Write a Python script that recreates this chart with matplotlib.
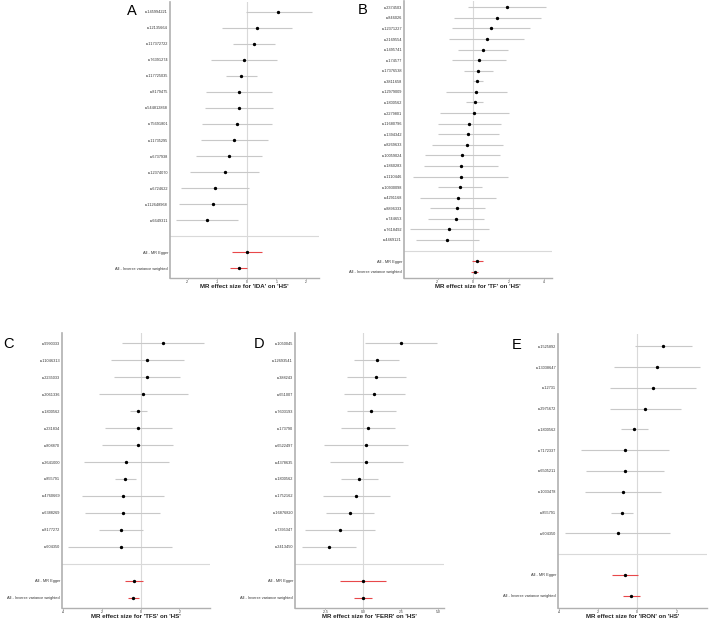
import matplotlib
matplotlib.use("Agg")
import matplotlib.pyplot as plt

plt.rcParams['font.family'] = ['Liberation Sans', 'DejaVu Sans']

W, H = 709, 622

# ---- panel A: IDA on HS
a_snps = ["rs145994221", "rs12135664", "rs117372722", "rs76391274", "rs117725035",
          "rs8179475", "rs544812868", "rs75691801", "rs11735295", "rs6737938",
          "rs12374070", "rs6724622", "rs112648968", "rs6649311"]
a_b = [1.07, 0.35, 0.24, -0.09, -0.19, -0.27, -0.27, -0.34, -0.42, -0.62, -0.75, -1.08, -1.16, -1.34]
a_lo = [-0.03, -0.83, -0.46, -1.21, -0.72, -1.38, -1.42, -1.51, -1.55, -1.72, -1.92, -2.24, -2.29, -2.40]
a_hi = [2.19, 1.53, 0.96, 1.02, 0.35, 0.86, 0.90, 0.84, 0.71, 0.50, 0.42, 0.08, -0.01, -0.29]
a_sum_b = [0.0, -0.28]
a_sum_lo = [-0.51, -0.58]
a_sum_hi = [0.51, 0.02]

# ---- panel B: TF on HS
b_snps = ["rs2374503", "rs846026", "rs12371227", "rs2169554", "rs1495741", "rs174577",
          "rs17376538", "rs3811658", "rs12979009", "rs1800562", "rs2279801", "rs11680796",
          "rs1394342", "rs8269633", "rs10059024", "rs1860283", "rs1110446", "rs10930098",
          "rs4291168", "rs8896333", "rs744653", "rs7618492", "rs4469121"]
b_b = [1.89, 1.37, 1.01, 0.77, 0.56, 0.32, 0.30, 0.24, 0.17, 0.09, 0.08, -0.21,
       -0.26, -0.32, -0.60, -0.68, -0.69, -0.73, -0.86, -0.88, -0.96, -1.33, -1.46]
b_lo = [-0.28, -1.07, -1.18, -1.33, -0.84, -1.18, -0.51, 0.0, -1.54, -0.39, -1.86, -1.95,
        -1.99, -2.29, -2.70, -2.78, -3.36, -1.95, -3.00, -2.42, -2.51, -3.55, -3.23]
b_hi = [4.09, 3.81, 3.23, 2.87, 1.99, 1.84, 1.13, 0.54, 1.91, 0.58, 2.01, 1.56,
        1.46, 1.67, 1.50, 1.43, 1.99, 0.51, 1.28, 0.68, 0.62, 0.92, 0.36]
b_sum_b = [0.24, 0.09]
b_sum_lo = [-0.04, -0.09]
b_sum_hi = [0.54, 0.28]

# ---- panel C: TFS on HS
c_snps = ["rs9990333", "rs11046313", "rs2235033", "rs2061336", "rs1800562", "rs231834",
          "rs808870", "rs2641000", "rs855791", "rs4760669", "rs6388269", "rs8177272", "rs604350"]
c_b = [1.14, 0.33, 0.33, 0.14, -0.12, -0.12, -0.16, -0.76, -0.79, -0.91, -0.93, -1.03, -1.03]
c_lo = [-0.95, -1.53, -1.36, -2.14, -0.57, -1.86, -2.00, -2.91, -1.33, -3.02, -2.86, -2.14, -3.74]
c_hi = [3.26, 2.22, 2.05, 2.43, 0.34, 1.62, 1.69, 1.45, -0.24, 1.19, 1.00, 0.14, 1.64]
c_sum_b = [-0.34, -0.38]
c_sum_lo = [-0.79, -0.66]
c_sum_hi = [0.10, -0.09]

# ---- panel D: FERR on HS
d_snps = ["rs1050045", "rs12693541", "rs388243", "rs651007", "rs7603193", "rs173790",
          "rs6522497", "rs4378635", "rs1800562", "rs1752162", "rs16876820", "rs7395347", "rs2413450"]
d_b = [2.51, 0.91, 0.86, 0.75, 0.53, 0.31, 0.18, 0.18, -0.29, -0.47, -0.86, -1.53, -2.26]
d_lo = [0.11, -0.60, -1.09, -1.24, -1.09, -1.49, -2.57, -2.22, -1.49, -2.68, -2.46, -3.84, -4.06]
d_hi = [4.92, 2.37, 2.82, 2.75, 2.20, 2.13, 2.95, 2.62, 0.98, 1.77, 0.75, 0.82, -0.47]
d_sum_b = [0.0, 0.0]
d_sum_lo = [-1.55, -0.60]
d_sum_hi = [1.55, 0.58]

# ---- panel E: IRON on HS
e_snps = ["rs1525892", "rs13038647", "rs12731", "rs2975672", "rs1800562", "rs7172337",
          "rs6505211", "rs1033478", "rs855791", "rs604350"]
e_b = [1.32, 1.01, 0.79, 0.41, -0.17, -0.63, -0.65, -0.74, -0.79, -1.01]
e_lo = [-0.14, -1.20, -1.38, -1.40, -0.85, -2.85, -2.63, -2.68, -1.33, -3.71]
e_hi = [2.80, 3.21, 2.99, 2.22, 0.56, 1.61, 1.35, 1.23, -0.22, 1.69]
e_sum_b = [-0.65, -0.31]
e_sum_lo = [-1.28, -0.74]
e_sum_hi = [0.02, 0.12]

sum_labels = ["All - MR Egger", "All - Inverse variance weighted"]

panels = [
    # letter, exposure, data, ticks, xlim, box(px: left, right, top, bottom), letter pos
    ("A", "IDA", a_snps, a_b, a_lo, a_hi, a_sum_b, a_sum_lo, a_sum_hi,
     [-2, -1, 0, 1, 2], (-2.6, 2.44), (170, 319, 2, 278), (132, 11)),
    ("B", "TF", b_snps, b_b, b_lo, b_hi, b_sum_b, b_sum_lo, b_sum_hi,
     [-2, 0, 2, 4], (-3.89, 4.45), (404, 552, 1, 278), (363, 10)),
    ("C", "TFS", c_snps, c_b, c_lo, c_hi, c_sum_b, c_sum_lo, c_sum_hi,
     [-4, -2, 0, 2], (-4.07, 3.59), (62, 210, 333, 608), (9, 344)),
    ("D", "FERR", d_snps, d_b, d_lo, d_hi, d_sum_b, d_sum_lo, d_sum_hi,
     [-2.5, 0.0, 2.5, 5.0], (-4.52, 5.37), (295, 444, 333, 608), (259, 344)),
    ("E", "IRON", e_snps, e_b, e_lo, e_hi, e_sum_b, e_sum_lo, e_sum_hi,
     [-4, -2, 0, 2], (-4.05, 3.56), (558, 707, 334, 608), (517, 345)),
]

fig = plt.figure(figsize=(W / 100, H / 100), dpi=100)
fig.patch.set_facecolor("white")

for (letter, expo, snps, b, lo, hi, sb, slo, shi, ticks, xlim, box, lpos) in panels:
    l, r, t, bt = box
    ax = fig.add_axes([l / W, 1 - bt / H, (r - l) / W, (bt - t) / H])
    n = len(snps)
    ys = list(range(n))
    sy = [n + 1, n + 2]

    ax.axvline(0, color="#d9d9d9", lw=0.8, zorder=0)
    ax.axhline(n, color="#d9d9d9", lw=0.8, zorder=0)
    ax.hlines(ys, lo, hi, color="#c8c8c8", lw=0.8, zorder=1)
    ax.plot(b, ys, "o", color="black", ms=1.4, zorder=3)
    ax.hlines(sy, slo, shi, color="#e8484a", lw=0.8, zorder=1)
    ax.plot(sb, sy, "o", color="black", ms=1.4, zorder=3)

    ax.set_ylim(n + 2.6, -0.6)
    ax.set_xlim(*xlim)
    ax.set_yticks(ys + sy)
    ax.set_yticklabels(snps + sum_labels, fontsize=2.8, color="#333333")
    ax.set_xticks(ticks)
    ax.set_xticklabels([("%.1f" % v if letter == "D" else "%d" % v) for v in ticks],
                       fontsize=2.4, color="#333333")
    ax.tick_params(axis="y", length=0, pad=1.5)
    ax.tick_params(axis="x", length=1.0, width=0.5, color="#555555", pad=0.4)
    for s in ["top", "right"]:
        ax.spines[s].set_visible(False)
    ax.spines["left"].set_color("#b0b0b0")
    ax.spines["left"].set_linewidth(1.2)
    ax.spines["bottom"].set_color("#b0b0b0")
    ax.spines["bottom"].set_linewidth(1.0)
    ax.set_xlabel("MR effect size for '%s' on 'HS'" % expo, fontsize=4.4,
                  fontweight="bold", color="#222222")
    ax.xaxis.set_label_coords(0.5, -6.5 / (bt - t))
    fig.text(lpos[0] / W, 1 - lpos[1] / H, letter, fontsize=10.5,
             ha="center", va="center")

fig.savefig("out.png", dpi=100, facecolor="white")
